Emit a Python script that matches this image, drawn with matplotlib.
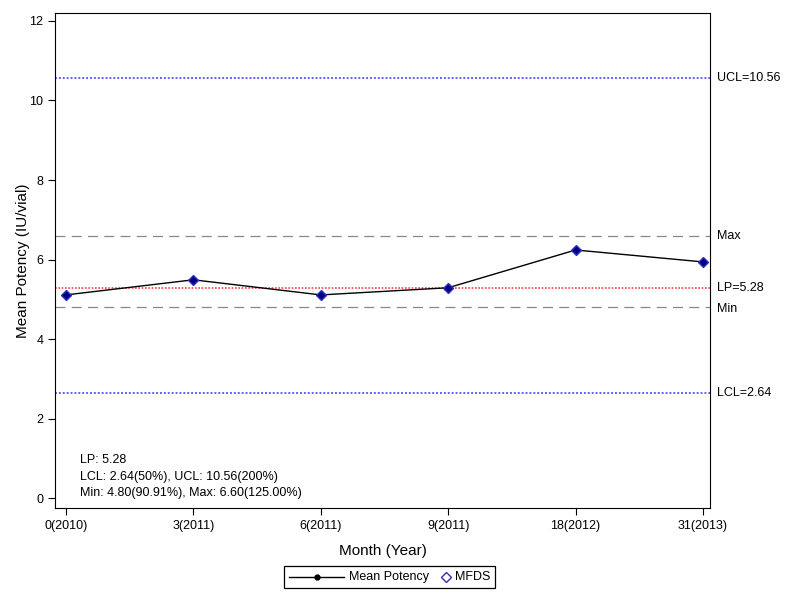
import numpy as np
import matplotlib.pyplot as plt
from matplotlib.lines import Line2D
from matplotlib.offsetbox import DrawingArea, TextArea, HPacker, AnchoredOffsetbox

# Values
months = ['0(2010)', '3(2011)', '6(2011)', '9(2011)', '18(2012)', '31(2013)']
potency = [5.11, 5.49, 5.11, 5.29, 6.24, 5.94]
lp = 5.28
lcl = 2.64
ucl = 10.56
min_val = 4.80
max_val = 6.60

plt.rcParams['font.family'] = ['Liberation Sans', 'DejaVu Sans']
fs = 9

fig = plt.figure(figsize=(8, 6), dpi=100)
ax = fig.add_axes([0.06875, 0.1533, 0.81875, 0.825])

x = np.arange(len(months))
ax.plot(x, potency, color='black', linewidth=1, zorder=3)
ax.plot(x, potency, linestyle='none', marker='D', markersize=5.5,
        markerfacecolor='#000080', markeredgecolor='#3030c0', zorder=4)

# reference lines
ax.axhline(ucl, color='#6060ff', linestyle=(0, (1, 1)), linewidth=1.4)
ax.axhline(lcl, color='#6060ff', linestyle=(0, (1, 1)), linewidth=1.4)
ax.axhline(lp, color='#ff4040', linestyle=(0, (1, 1)), linewidth=1.2)
ax.axhline(max_val, color='#888888', linestyle=(0, (8, 5)), linewidth=0.9)
ax.axhline(min_val, color='#888888', linestyle=(0, (8, 5)), linewidth=0.9)

lbl = dict(transform=ax.get_yaxis_transform(), fontsize=fs, va='center', ha='left')
ax.text(1.01, ucl, 'UCL=10.56', **lbl)
ax.text(1.01, lcl, 'LCL=2.64', **lbl)
ax.text(1.01, max_val, 'Max', **lbl)
ax.text(1.01, lp, 'LP=5.28', **lbl)
ax.text(1.01, min_val - 0.05, 'Min', **lbl)

ax.text(0.038, 0.018,
        'LP: 5.28\nLCL: 2.64(50%), UCL: 10.56(200%)\nMin: 4.80(90.91%), Max: 6.60(125.00%)',
        transform=ax.transAxes, fontsize=fs, va='bottom', ha='left', linespacing=1.5)

ax.set_xlim(-0.086, 5.055)
ax.set_ylim(-0.25, 12.2)
ax.set_xticks(x)
ax.set_xticklabels(months, fontsize=fs)
ax.set_yticks([0, 2, 4, 6, 8, 10, 12])
ax.tick_params(labelsize=fs, length=5)
ax.set_xlabel('Month (Year)', fontsize=11, labelpad=9)
ax.set_ylabel('Mean Potency (IU/vial)', fontsize=11)
ax.yaxis.set_label_coords(-0.038, 0.5)

# legend below the axes
da1 = DrawingArea(40, 8)
da1.add_artist(Line2D([0, 40], [4, 4], color='black', linewidth=1))
da1.add_artist(Line2D([20], [4], marker='o', markersize=3.5, color='black'))
da2 = DrawingArea(7, 8)
da2.add_artist(Line2D([3.5], [4], linestyle='none', marker='D', markersize=5,
                      markerfacecolor='white', markeredgecolor='#3030c0'))
item1 = HPacker(children=[da1, TextArea('Mean Potency', textprops=dict(size=fs))],
                sep=3, align='center')
item2 = HPacker(children=[da2, TextArea('MFDS', textprops=dict(size=fs))],
                sep=3, align='center')
box = HPacker(children=[item1, item2], sep=9, pad=0, align='center')
leg = AnchoredOffsetbox(loc='center', child=box, pad=0.35, borderpad=0,
                        bbox_to_anchor=(0.487, 0.038), bbox_transform=fig.transFigure,
                        frameon=True)
leg.patch.set_boxstyle('square', pad=0)
leg.patch.set_edgecolor('black')
leg.patch.set_linewidth(0.9)
fig.add_artist(leg)

fig.savefig('out.png', dpi=100)
